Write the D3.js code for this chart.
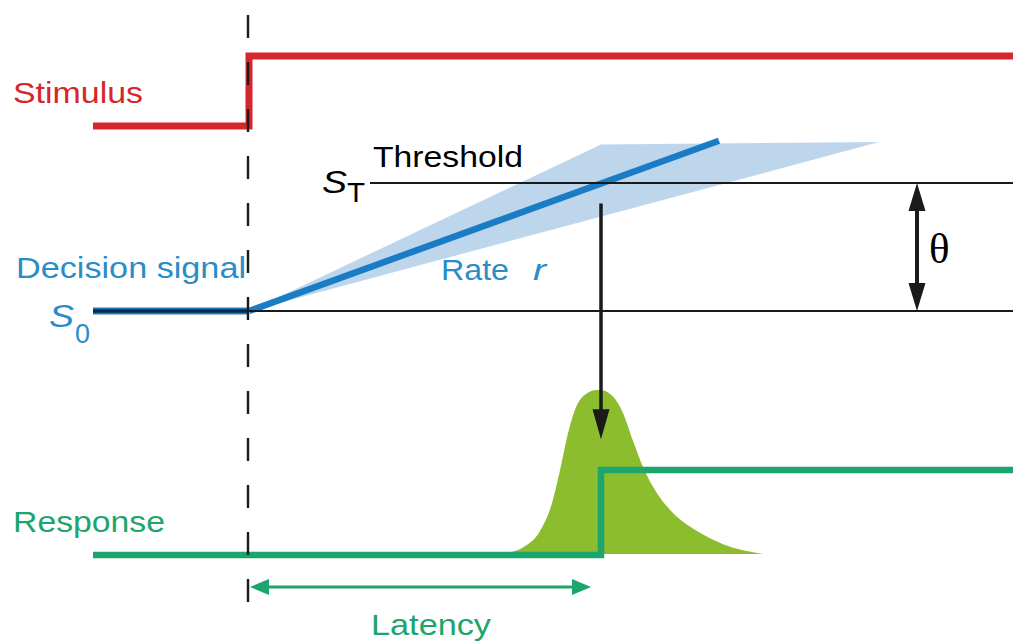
<!DOCTYPE html>
<html>
<head>
<meta charset="utf-8">
<script src="https://cdn.jsdelivr.net/npm/d3@7"></script>
<style>
body { margin: 0; background: #fff; }
text { font-family: "Liberation Sans", Arial, sans-serif; }
</style>
</head>
<body>
<div id="chart"></div>
<script>
// time in ms after stimulus onset, levels are normalised
var stimT = [-156, 0, 0, 764];
var stimV = [0, 0, 1, 1];

var respT = [-156, 352, 352, 764];
var respV = [0, 0, 1, 1];

// decision signal: S0 = 0, threshold ST = theta = 1
var rampT = [0, 470];
var rampV = [0, 1.33];
var fanT = [0, 352, 630];
var fanV = [0, 1.30, 1.32];
var crossT = 352;
var thetaT = 668;

// latency distribution
var densT = [255, 261, 274, 291, 303, 311, 318, 326, 338, 348, 352, 364, 374, 384, 394, 408, 424, 448, 474, 514];
var densV = [0, 0.01, 0.04, 0.14, 0.31, 0.51, 0.71, 0.88, 0.98, 1.0, 1.0, 0.96, 0.86, 0.69, 0.53, 0.37, 0.25, 0.14, 0.06, 0];

var width = 1013, height = 644;

var svg = d3.select("#chart").append("svg")
  .attr("width", width)
  .attr("height", height);

var x = d3.scaleLinear().domain([-156, 764]).range([93, 1013]);
var yStim = d3.scaleLinear().domain([0, 1]).range([126, 56]);
var ySig = d3.scaleLinear().domain([0, 1]).range([311, 183]);
var yResp = d3.scaleLinear().domain([0, 1]).range([555, 470]);
var yDens = d3.scaleLinear().domain([0, 1]).range([554, 390]);

var red = "#d5262c", blue = "#1b7cc6", blueTxt = "#2b8cc8", fan = "#b7d2ea",
    green = "#1ca56c", bell = "#8cbd2e", ink = "#1a1a1a";

function arrowHead(tx, ty, angle, len, wid, col) {
  // triangle with tip at (tx,ty), pointing in direction angle (radians)
  var c = Math.cos(angle), s = Math.sin(angle);
  var bx = tx - c * len, by = ty - s * len;
  var pts = [[tx, ty], [bx - s * wid / 2, by + c * wid / 2], [bx + s * wid / 2, by - c * wid / 2]];
  svg.append("path")
    .attr("d", "M" + pts.join("L") + "Z")
    .attr("fill", col);
}

// latency distribution
var area = d3.area()
  .x(function(d) { return x(d[0]); })
  .y0(yDens(0))
  .y1(function(d) { return yDens(d[1]); })
  .curve(d3.curveMonotoneX);
svg.append("path")
  .datum(d3.zip(densT, densV))
  .attr("d", area)
  .attr("fill", bell);

// rate fan
svg.append("path")
  .attr("d", "M" + d3.zip(fanT, fanV).map(function(d) { return [x(d[0]), ySig(d[1])]; }).join("L") + "Z")
  .attr("fill", fan)
  .attr("opacity", 0.9);

// S0 bold segment before onset
svg.append("line")
  .attr("x1", x(-156)).attr("x2", x(0))
  .attr("y1", ySig(0)).attr("y2", ySig(0))
  .attr("stroke", blue).attr("stroke-width", 7);
svg.append("line")
  .attr("x1", x(-156)).attr("x2", x(0))
  .attr("y1", ySig(0)).attr("y2", ySig(0))
  .attr("stroke", "#0f2a44").attr("stroke-width", 3.5);

// rising decision signal
svg.append("line")
  .attr("x1", x(rampT[0])).attr("y1", ySig(rampV[0]))
  .attr("x2", x(rampT[1])).attr("y2", ySig(rampV[1]))
  .attr("stroke", blue).attr("stroke-width", 6.5);

// S0 and threshold lines
svg.append("line")
  .attr("x1", x(0)).attr("x2", x(764))
  .attr("y1", ySig(0)).attr("y2", ySig(0))
  .attr("stroke", ink).attr("stroke-width", 2.2);
svg.append("line")
  .attr("x1", x(121)).attr("x2", x(764))
  .attr("y1", ySig(1)).attr("y2", ySig(1))
  .attr("stroke", ink).attr("stroke-width", 2.2);

// stimulus
var step = d3.line()
  .x(function(d) { return x(d[0]); });
svg.append("path")
  .attr("d", step.y(function(d) { return yStim(d[1]); })(d3.zip(stimT, stimV)))
  .attr("fill", "none").attr("stroke", red).attr("stroke-width", 7);

// response
svg.append("path")
  .attr("d", step.y(function(d) { return yResp(d[1]); })(d3.zip(respT, respV)))
  .attr("fill", "none").attr("stroke", green).attr("stroke-width", 6.5);

// onset dashed line
svg.append("line")
  .attr("x1", x(-1)).attr("x2", x(-1))
  .attr("y1", 15).attr("y2", 603)
  .attr("stroke", ink).attr("stroke-width", 2.4)
  .attr("stroke-dasharray", "23,24");

// threshold crossing -> response arrow
svg.append("line")
  .attr("x1", x(crossT)).attr("x2", x(crossT))
  .attr("y1", ySig(0.84)).attr("y2", yDens(0.7) - 20)
  .attr("stroke", ink).attr("stroke-width", 3.5);
arrowHead(x(crossT), yDens(0.7), Math.PI / 2, 30, 17, ink);

// theta arrow
svg.append("line")
  .attr("x1", x(thetaT)).attr("x2", x(thetaT))
  .attr("y1", ySig(1) + 20).attr("y2", ySig(0) - 20)
  .attr("stroke", ink).attr("stroke-width", 4);
arrowHead(x(thetaT), ySig(1), -Math.PI / 2, 28, 17, ink);
arrowHead(x(thetaT), ySig(0), Math.PI / 2, 28, 17, ink);

// latency arrow
svg.append("line")
  .attr("x1", x(1) + 12).attr("x2", x(342) - 12)
  .attr("y1", 587).attr("y2", 587)
  .attr("stroke", green).attr("stroke-width", 3);
arrowHead(x(1), 587, Math.PI, 19, 16, green);
arrowHead(x(342), 587, 0, 19, 16, green);

// labels
function label(txt, px, py, len, col, size, style) {
  var t = svg.append("text")
    .attr("x", px).attr("y", py)
    .attr("fill", col)
    .style("font-size", size + "px")
    .text(txt);
  if (len) t.attr("textLength", len).attr("lengthAdjust", "spacingAndGlyphs");
  if (style) t.style("font-style", style);
  return t;
}

label("Stimulus", 13, 103, 130, red, 29);
label("Decision signal", 16, 278, 230, blueTxt, 29);
label("Response", 13, 532, 152, green, 29);
label("Latency", 371, 635, 120, green, 29);
label("Threshold", 373, 167, 150, "#000", 29);
label("Rate", 441, 280, 68, blueTxt, 29);
label("r", 533, 280, 13, blueTxt, 29, "italic");

label("S", 49, 327, 25, blueTxt, 32, "italic");
label("0", 75, 343, 15, blueTxt, 27);
label("S", 322, 193, 25, "#000", 32, "italic");
label("T", 347, 202, 18, "#000", 27);

svg.append("text")
  .attr("x", 929).attr("y", 263)
  .style("font-family", "'Liberation Serif', 'Times New Roman', serif")
  .style("font-size", "43px")
  .attr("fill", "#000")
  .text("θ");
</script>
</body>
</html>
